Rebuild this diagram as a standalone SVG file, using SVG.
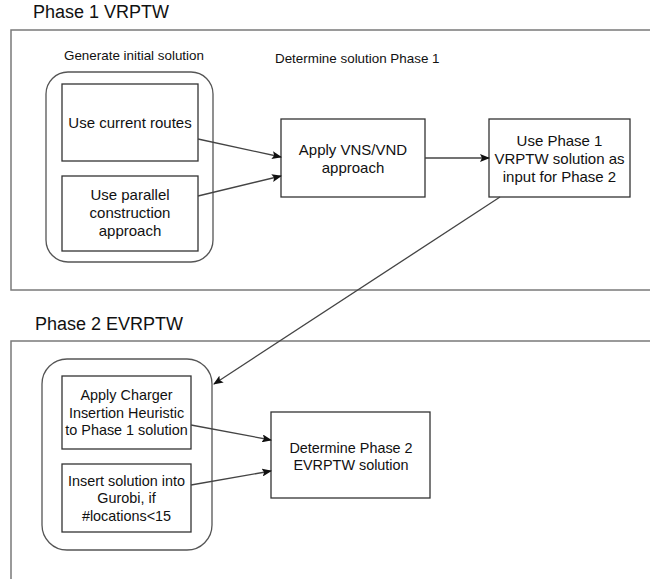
<svg xmlns="http://www.w3.org/2000/svg" width="650" height="579" viewBox="0 0 650 579">
<style>
.frame{fill:none;stroke:#7a7a7a;stroke-width:1.5}
.group{fill:none;stroke:#555;stroke-width:1.3}
.box{fill:#fff;stroke:#333;stroke-width:1.3}
.title{font-family:"Liberation Sans",Arial,sans-serif;font-size:18px;fill:#111}
.label{font-family:"Liberation Sans",Arial,sans-serif;font-size:13.4px;fill:#111}
.t{font-family:"Liberation Sans",Arial,sans-serif;font-size:15px;fill:#111;text-anchor:middle}
.t2{font-family:"Liberation Sans",Arial,sans-serif;font-size:14.4px;fill:#111;text-anchor:middle}
.edge{fill:none;stroke:#444;stroke-width:1.3;marker-end:url(#arr)}
</style>
<defs>
<marker id="arr" markerWidth="10" markerHeight="8" refX="9" refY="4" orient="auto" markerUnits="userSpaceOnUse">
<path d="M0,0 L10,4 L0,8 L2,4 Z" fill="#111"/>
</marker>
</defs>
<rect width="650" height="579" fill="#fff"/>

<g id="phase1">
<text class="title" x="33" y="18">Phase 1 VRPTW</text>
<rect class="frame" x="11" y="30" width="660" height="260"/>
<text class="label" x="64" y="60">Generate initial solution</text>
<text class="label" x="275" y="63">Determine solution Phase 1</text>
</g>

<g id="phase2">
<text class="title" x="35" y="330">Phase 2 EVRPTW</text>
<rect class="frame" x="11" y="341" width="660" height="260"/>
</g>

<g id="init-group">
<rect class="group" x="46" y="72" width="167" height="190" rx="22"/>
</g>
<g id="current-routes">
<rect class="box" x="62" y="84" width="136" height="77"/>
<text class="t" x="130" y="128">Use current routes</text>
</g>
<g id="parallel">
<rect class="box" x="62" y="176" width="136" height="75"/>
<text class="t" x="130" y="200">Use parallel</text>
<text class="t" x="130" y="218">construction</text>
<text class="t" x="130" y="236">approach</text>
</g>
<g id="vns">
<rect class="box" x="281" y="119" width="144" height="78"/>
<text class="t" x="353" y="155">Apply VNS/VND</text>
<text class="t" x="353" y="173">approach</text>
</g>
<g id="use-phase1">
<rect class="box" x="489" y="119" width="141" height="78"/>
<text class="t" x="559.5" y="146">Use Phase 1</text>
<text class="t" x="559.5" y="164">VRPTW solution as</text>
<text class="t" x="559.5" y="182">input for Phase 2</text>
</g>

<g id="p2-group">
<rect class="group" x="42" y="359" width="170" height="191" rx="25"/>
</g>
<g id="charger">
<rect class="box" x="62" y="376" width="129" height="73"/>
<text class="t2" x="126.5" y="400">Apply Charger</text>
<text class="t2" x="126.5" y="418">Insertion Heuristic</text>
<text class="t2" x="126.5" y="435">to Phase 1 solution</text>
</g>
<g id="gurobi">
<rect class="box" x="62" y="464" width="129" height="68"/>
<text class="t2" x="126.5" y="486">Insert solution into</text>
<text class="t2" x="126.5" y="503">Gurobi, if</text>
<text class="t2" x="126.5" y="521">#locations&lt;15</text>
</g>
<g id="determine2">
<rect class="box" x="271" y="412" width="159" height="86"/>
<text class="t2" x="351" y="453">Determine Phase 2</text>
<text class="t2" x="351" y="470">EVRPTW solution</text>
</g>

<g id="connectors">
<line class="edge" x1="198" y1="139" x2="281" y2="157"/>
<line class="edge" x1="198" y1="196" x2="281" y2="176"/>
<line class="edge" x1="425" y1="158" x2="489" y2="158"/>
<line class="edge" x1="500" y1="197" x2="214" y2="384"/>
<line class="edge" x1="191" y1="425" x2="271" y2="440"/>
<line class="edge" x1="191" y1="485" x2="271" y2="471"/>
</g>
</svg>
